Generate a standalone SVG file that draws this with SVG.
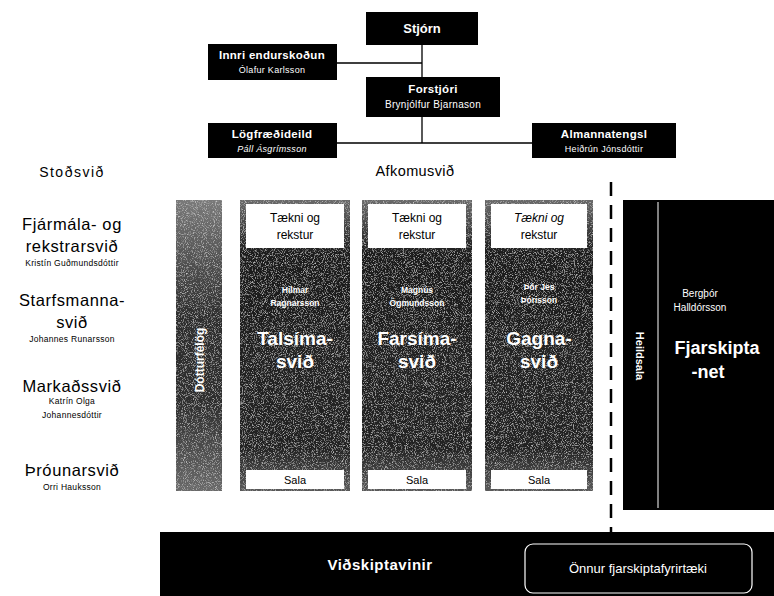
<svg xmlns="http://www.w3.org/2000/svg" width="774" height="596" viewBox="0 0 774 596">
<defs>
<filter id="noise" x="0" y="0" width="100%" height="100%">
<feTurbulence type="fractalNoise" baseFrequency="1.1" numOctaves="2" seed="3" result="n"/>
<feColorMatrix in="n" type="matrix" values="0 0 0 0 1  0 0 0 0 1  0 0 0 0 1  1.4 0 0 0 -0.72" result="w"/>
<feComposite in="w" in2="SourceGraphic" operator="in" result="wn"/>
<feMerge><feMergeNode in="SourceGraphic"/><feMergeNode in="wn"/></feMerge>
</filter>
<linearGradient id="colg" x1="0" y1="0" x2="0" y2="1">
<stop offset="0" stop-color="#6a6a6a"/>
<stop offset="0.18" stop-color="#1e1e1e"/>
<stop offset="0.85" stop-color="#222"/>
<stop offset="1" stop-color="#5a5a5a"/>
</linearGradient>
<linearGradient id="dotg" x1="0" y1="0" x2="0" y2="1">
<stop offset="0" stop-color="#7a7a7a"/>
<stop offset="0.4" stop-color="#2e2e2e"/>
<stop offset="0.7" stop-color="#2e2e2e"/>
<stop offset="1" stop-color="#6a6a6a"/>
</linearGradient>
</defs>
<style>
text{font-family:"Liberation Sans",Arial,sans-serif;text-anchor:middle}
.box{fill:#000}
.wt{fill:#fff}
.bt{fill:#000}
.h{font-weight:bold;font-size:11.5px;letter-spacing:0.3px}
.s{font-size:9px;letter-spacing:0.3px}
.lbl{font-size:16.5px;letter-spacing:0.6px}
.sm{font-size:8.5px;letter-spacing:0.3px}
.col{fill:url(#colg)}
.wbox{fill:#fff}
.conn{stroke:#000;stroke-width:1.3;fill:none}
</style>
<rect width="774" height="596" fill="#fff"/>

<g id="connectors">
<path class="conn" d="M422 45V77M337 63H422M422 117V143M337 143H532"/>
<path d="M611 182V548" stroke="#000" stroke-width="2.5" stroke-dasharray="14 9" fill="none"/>
</g>

<g id="stjorn">
<rect class="box" x="366" y="12" width="112" height="33"/>
<text class="wt" x="422" y="33" font-weight="bold" font-size="13">Stjórn</text>
</g>
<g id="innri">
<rect class="box" x="208" y="44" width="129" height="36"/>
<text class="wt h" x="272" y="59">Innri endurskoðun</text>
<text class="wt s" x="272" y="73">Ólafur Karlsson</text>
</g>
<g id="forstjori">
<rect class="box" x="366" y="77" width="134" height="40"/>
<text class="wt h" x="433" y="93">Forstjóri</text>
<text class="wt" x="433" y="108" font-size="10" letter-spacing="0.3">Brynjólfur Bjarnason</text>
</g>
<g id="logfraedi">
<rect class="box" x="208" y="123" width="129" height="35"/>
<text class="wt h" x="272" y="138">Lögfræðideild</text>
<text class="wt s" x="272" y="152" font-style="italic">Páll Ásgrímsson</text>
</g>
<g id="almanna">
<rect class="box" x="532" y="123" width="144" height="35"/>
<text class="wt h" x="604" y="138">Almannatengsl</text>
<text class="wt s" x="604" y="152">Heiðrún Jónsdóttir</text>
</g>

<g id="headers">
<text x="72" y="177" font-size="14" letter-spacing="1.5">Stoðsvið</text>
<text x="415" y="176" font-size="14.5" letter-spacing="0.4">Afkomusvið</text>
</g>

<g id="fjarmala">
<text class="lbl" x="72" y="230">Fjármála- og</text>
<text class="lbl" x="72" y="252">rekstrarsvið</text>
<text class="sm" x="72" y="266">Kristín Guðmundsdóttir</text>
</g>
<g id="starfsmanna">
<text class="lbl" x="72" y="306">Starfsmanna-</text>
<text class="lbl" x="72" y="328">svið</text>
<text class="sm" x="72" y="342">Johannes Runarsson</text>
</g>
<g id="markads">
<text class="lbl" x="72" y="392">Markaðssvið</text>
<text class="sm" x="72" y="404">Katrín Olga</text>
<text class="sm" x="72" y="418">Johannesdóttir</text>
</g>
<g id="throunar">
<text class="lbl" x="72" y="476">Þróunarsvið</text>
<text class="sm" x="72" y="490">Orri Hauksson</text>
</g>

<g id="dotturfelog">
<rect x="176" y="200" width="46" height="291" fill="url(#dotg)" filter="url(#noise)"/>
<text class="wt" transform="translate(204 360) rotate(-90)" font-weight="bold" font-size="12">Dótturfélög</text>
</g>

<g id="talsima">
<rect class="col" x="240" y="200" width="110" height="291" filter="url(#noise)"/>
<rect class="wbox" x="246" y="204" width="98" height="44"/>
<text class="bt" x="295" y="222" font-size="12">Tækni og</text>
<text class="bt" x="295" y="239" font-size="12">rekstur</text>
<text class="wt" x="295" y="293" font-size="8.5" font-weight="bold">Hilmar</text>
<text class="wt" x="295" y="306" font-size="8.5" font-weight="bold">Ragnarsson</text>
<text class="wt" x="295" y="345" font-size="19" font-weight="bold">Talsíma-</text>
<text class="wt" x="295" y="368" font-size="19" font-weight="bold">svið</text>
<rect class="wbox" x="246" y="470" width="98" height="19"/>
<text class="bt" x="295" y="484" font-size="11">Sala</text>
</g>

<g id="farsima">
<rect class="col" x="362" y="200" width="110" height="291" filter="url(#noise)"/>
<rect class="wbox" x="368" y="204" width="98" height="44"/>
<text class="bt" x="417" y="222" font-size="12">Tækni og</text>
<text class="bt" x="417" y="239" font-size="12">rekstur</text>
<text class="wt" x="417" y="293" font-size="8.5" font-weight="bold">Magnús</text>
<text class="wt" x="417" y="306" font-size="8.5" font-weight="bold">Ögmundsson</text>
<text class="wt" x="417" y="345" font-size="19" font-weight="bold">Farsíma-</text>
<text class="wt" x="417" y="368" font-size="19" font-weight="bold">svið</text>
<rect class="wbox" x="368" y="470" width="98" height="19"/>
<text class="bt" x="417" y="484" font-size="11">Sala</text>
</g>

<g id="gagna">
<rect class="col" x="485" y="200" width="108" height="291" filter="url(#noise)"/>
<rect class="wbox" x="491" y="204" width="96" height="44"/>
<text class="bt" x="539" y="222" font-size="12" font-style="italic">Tækni og</text>
<text class="bt" x="539" y="239" font-size="12">rekstur</text>
<text class="wt" x="539" y="290" font-size="8.5" font-weight="bold">Þór Jes</text>
<text class="wt" x="539" y="303" font-size="8.5" font-weight="bold">Þórisson</text>
<text class="wt" x="539" y="345" font-size="19" font-weight="bold">Gagna-</text>
<text class="wt" x="539" y="368" font-size="19" font-weight="bold">svið</text>
<rect class="wbox" x="491" y="470" width="96" height="19"/>
<text class="bt" x="539" y="484" font-size="11">Sala</text>
</g>

<g id="fjarskiptanet">
<rect class="box" x="623" y="200" width="151" height="310"/>
<line x1="658" y1="202" x2="658" y2="508" stroke="#fff" stroke-width="1"/>
<text class="wt" transform="translate(636 356) rotate(90)" font-weight="bold" font-size="11">Heildsala</text>
<text class="wt" x="700" y="297" font-size="10">Bergþór</text>
<text class="wt" x="700" y="311" font-size="10">Halldórsson</text>
<text class="wt" x="717" y="354" font-size="18" font-weight="bold">Fjarskipta</text>
<text class="wt" x="708" y="378" font-size="18" font-weight="bold">-net</text>
</g>

<g id="vidskiptavinir">
<rect class="box" x="160" y="532" width="614" height="64"/>
<text class="wt" x="380" y="570" font-size="15" font-weight="bold" letter-spacing="0.5">Viðskiptavinir</text>
</g>
<g id="onnur">
<rect x="525" y="544" width="227" height="49" rx="8" fill="none" stroke="#fff" stroke-width="1.2"/>
<text class="wt" x="638" y="573" font-size="13">Önnur fjarskiptafyrirtæki</text>
</g>
</svg>
